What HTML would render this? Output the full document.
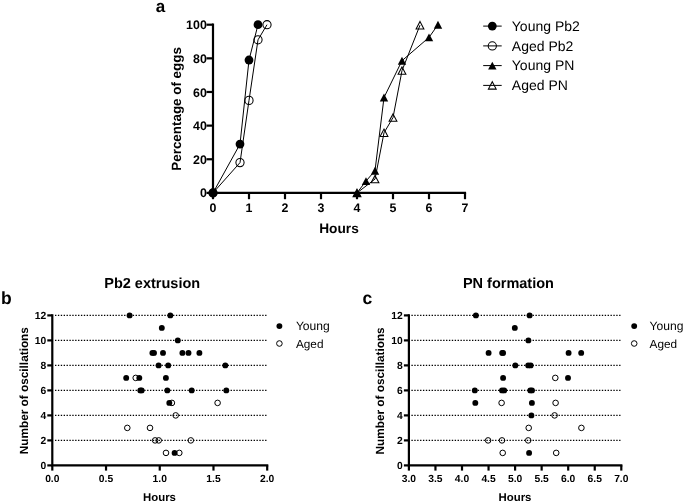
<!DOCTYPE html><html><head><meta charset="utf-8"><style>html,body{margin:0;padding:0;background:#fff;width:685px;height:503px;overflow:hidden}svg{display:block;will-change:transform}#w{width:685px;height:503px;background:#fff}text{font-family:"Liberation Sans", sans-serif;fill:#000;text-rendering:geometricPrecision}</style></head><body><div id="w">
<svg width="685" height="503" viewBox="0 0 685 503">
<rect width="685" height="503" fill="#fff"/>
<text x="155.8" y="11.6" font-size="17" font-weight="bold">a</text>
<path d="M213.00 23.60V192.90H466.10" fill="none" stroke="#000" stroke-width="2.2" stroke-linejoin="miter"/>
<line x1="206.50" y1="192.90" x2="213.00" y2="192.90" stroke="#000" stroke-width="2.2"/>
<text x="206.8" y="197.45" font-size="12.4" font-weight="bold" text-anchor="end">0</text>
<line x1="206.50" y1="159.26" x2="213.00" y2="159.26" stroke="#000" stroke-width="2.2"/>
<text x="206.8" y="163.81" font-size="12.4" font-weight="bold" text-anchor="end">20</text>
<line x1="206.50" y1="125.62" x2="213.00" y2="125.62" stroke="#000" stroke-width="2.2"/>
<text x="206.8" y="130.17" font-size="12.4" font-weight="bold" text-anchor="end">40</text>
<line x1="206.50" y1="91.98" x2="213.00" y2="91.98" stroke="#000" stroke-width="2.2"/>
<text x="206.8" y="96.53" font-size="12.4" font-weight="bold" text-anchor="end">60</text>
<line x1="206.50" y1="58.34" x2="213.00" y2="58.34" stroke="#000" stroke-width="2.2"/>
<text x="206.8" y="62.89" font-size="12.4" font-weight="bold" text-anchor="end">80</text>
<line x1="206.50" y1="24.70" x2="213.00" y2="24.70" stroke="#000" stroke-width="2.2"/>
<text x="206.8" y="29.25" font-size="12.4" font-weight="bold" text-anchor="end">100</text>
<line x1="213.00" y1="192.90" x2="213.00" y2="199.20" stroke="#000" stroke-width="2.2"/>
<text x="213.00" y="211.5" font-size="12.4" font-weight="bold" text-anchor="middle">0</text>
<line x1="249.00" y1="192.90" x2="249.00" y2="199.20" stroke="#000" stroke-width="2.2"/>
<text x="249.00" y="211.5" font-size="12.4" font-weight="bold" text-anchor="middle">1</text>
<line x1="285.00" y1="192.90" x2="285.00" y2="199.20" stroke="#000" stroke-width="2.2"/>
<text x="285.00" y="211.5" font-size="12.4" font-weight="bold" text-anchor="middle">2</text>
<line x1="321.00" y1="192.90" x2="321.00" y2="199.20" stroke="#000" stroke-width="2.2"/>
<text x="321.00" y="211.5" font-size="12.4" font-weight="bold" text-anchor="middle">3</text>
<line x1="357.00" y1="192.90" x2="357.00" y2="199.20" stroke="#000" stroke-width="2.2"/>
<text x="357.00" y="211.5" font-size="12.4" font-weight="bold" text-anchor="middle">4</text>
<line x1="393.00" y1="192.90" x2="393.00" y2="199.20" stroke="#000" stroke-width="2.2"/>
<text x="393.00" y="211.5" font-size="12.4" font-weight="bold" text-anchor="middle">5</text>
<line x1="429.00" y1="192.90" x2="429.00" y2="199.20" stroke="#000" stroke-width="2.2"/>
<text x="429.00" y="211.5" font-size="12.4" font-weight="bold" text-anchor="middle">6</text>
<line x1="465.00" y1="192.90" x2="465.00" y2="199.20" stroke="#000" stroke-width="2.2"/>
<text x="465.00" y="211.5" font-size="12.4" font-weight="bold" text-anchor="middle">7</text>
<text x="339" y="232.5" font-size="13.7" font-weight="bold" text-anchor="middle">Hours</text>
<text transform="translate(181.2,108.9) rotate(-90)" font-size="13.4" font-weight="bold" text-anchor="middle">Percentage of eggs</text>
<polyline points="357.00,192.90 375.00,179.10 384.00,132.80 393.00,117.60 402.00,70.60 420.00,25.20" fill="none" stroke="#000" stroke-width="1.0"/>
<polyline points="357.00,192.90 366.00,181.10 375.00,170.70 384.00,97.50 402.00,60.70 429.00,37.40 438.00,24.70" fill="none" stroke="#000" stroke-width="1.0"/>
<polyline points="213.00,192.90 240.00,162.62 249.00,100.39 258.00,39.84 267.00,24.70" fill="none" stroke="#000" stroke-width="1.0"/>
<polyline points="213.00,192.90 240.00,144.12 249.00,60.02 258.00,24.70" fill="none" stroke="#000" stroke-width="1.0"/>
<path d="M357.00 189.20L360.90 196.60L353.10 196.60Z" fill="none" stroke="#000" stroke-width="1.05"/>
<path d="M375.00 175.40L378.90 182.80L371.10 182.80Z" fill="none" stroke="#000" stroke-width="1.05"/>
<path d="M384.00 129.10L387.90 136.50L380.10 136.50Z" fill="none" stroke="#000" stroke-width="1.05"/>
<path d="M393.00 113.90L396.90 121.30L389.10 121.30Z" fill="none" stroke="#000" stroke-width="1.05"/>
<path d="M402.00 66.90L405.90 74.30L398.10 74.30Z" fill="none" stroke="#000" stroke-width="1.05"/>
<path d="M420.00 21.50L423.90 28.90L416.10 28.90Z" fill="none" stroke="#000" stroke-width="1.05"/>
<path d="M357.00 188.95L361.20 196.85L352.80 196.85Z" fill="#000"/>
<path d="M366.00 177.15L370.20 185.05L361.80 185.05Z" fill="#000"/>
<path d="M375.00 166.75L379.20 174.65L370.80 174.65Z" fill="#000"/>
<path d="M384.00 93.55L388.20 101.45L379.80 101.45Z" fill="#000"/>
<path d="M402.00 56.75L406.20 64.65L397.80 64.65Z" fill="#000"/>
<path d="M429.00 33.45L433.20 41.35L424.80 41.35Z" fill="#000"/>
<path d="M438.00 20.75L442.20 28.65L433.80 28.65Z" fill="#000"/>
<circle cx="213.00" cy="192.90" r="4.1" fill="none" stroke="#000" stroke-width="1.05"/>
<circle cx="240.00" cy="162.62" r="4.1" fill="none" stroke="#000" stroke-width="1.05"/>
<circle cx="249.00" cy="100.39" r="4.1" fill="none" stroke="#000" stroke-width="1.05"/>
<circle cx="258.00" cy="39.84" r="4.1" fill="none" stroke="#000" stroke-width="1.05"/>
<circle cx="267.00" cy="24.70" r="4.1" fill="none" stroke="#000" stroke-width="1.05"/>
<circle cx="213.00" cy="192.90" r="4.4" fill="#000"/>
<circle cx="240.00" cy="144.12" r="4.4" fill="#000"/>
<circle cx="249.00" cy="60.02" r="4.4" fill="#000"/>
<circle cx="258.00" cy="24.70" r="4.4" fill="#000"/>
<line x1="483.2" y1="26.10" x2="501.7" y2="26.10" stroke="#000" stroke-width="1"/>
<circle cx="492.3" cy="26.1" r="4.4" fill="#000"/>
<text x="511.8" y="30.70" font-size="14">Young Pb2</text>
<line x1="483.2" y1="45.90" x2="501.7" y2="45.90" stroke="#000" stroke-width="1"/>
<circle cx="492.3" cy="45.9" r="4.1" fill="none" stroke="#000" stroke-width="1.05"/>
<text x="511.8" y="50.50" font-size="14">Aged Pb2</text>
<line x1="483.2" y1="65.60" x2="501.7" y2="65.60" stroke="#000" stroke-width="1"/>
<path d="M492.30 61.65L496.50 69.55L488.10 69.55Z" fill="#000"/>
<text x="511.8" y="70.20" font-size="14">Young PN</text>
<line x1="483.2" y1="85.40" x2="501.7" y2="85.40" stroke="#000" stroke-width="1"/>
<path d="M492.30 81.70L496.20 89.10L488.40 89.10Z" fill="none" stroke="#000" stroke-width="1.05"/>
<text x="511.8" y="90.00" font-size="14">Aged PN</text>
<line x1="55.025" y1="440.40" x2="266.475" y2="440.40" stroke="#000" stroke-width="1.1" stroke-dasharray="1.350 1.528"/>
<line x1="55.025" y1="415.40" x2="266.475" y2="415.40" stroke="#000" stroke-width="1.1" stroke-dasharray="1.350 1.528"/>
<line x1="55.025" y1="390.40" x2="266.475" y2="390.40" stroke="#000" stroke-width="1.1" stroke-dasharray="1.350 1.528"/>
<line x1="55.025" y1="365.40" x2="266.475" y2="365.40" stroke="#000" stroke-width="1.1" stroke-dasharray="1.350 1.528"/>
<line x1="55.025" y1="340.40" x2="266.475" y2="340.40" stroke="#000" stroke-width="1.1" stroke-dasharray="1.350 1.528"/>
<line x1="55.025" y1="315.40" x2="266.475" y2="315.40" stroke="#000" stroke-width="1.1" stroke-dasharray="1.350 1.528"/>
<path d="M52.30 314.30V465.40H268.30" fill="none" stroke="#000" stroke-width="2.2"/>
<line x1="47.30" y1="465.40" x2="52.30" y2="465.40" stroke="#000" stroke-width="2.2"/>
<text x="46.20" y="469.40" font-size="10.3" font-weight="bold" text-anchor="end">0</text>
<line x1="47.30" y1="440.40" x2="52.30" y2="440.40" stroke="#000" stroke-width="2.2"/>
<text x="46.20" y="444.40" font-size="10.3" font-weight="bold" text-anchor="end">2</text>
<line x1="47.30" y1="415.40" x2="52.30" y2="415.40" stroke="#000" stroke-width="2.2"/>
<text x="46.20" y="419.40" font-size="10.3" font-weight="bold" text-anchor="end">4</text>
<line x1="47.30" y1="390.40" x2="52.30" y2="390.40" stroke="#000" stroke-width="2.2"/>
<text x="46.20" y="394.40" font-size="10.3" font-weight="bold" text-anchor="end">6</text>
<line x1="47.30" y1="365.40" x2="52.30" y2="365.40" stroke="#000" stroke-width="2.2"/>
<text x="46.20" y="369.40" font-size="10.3" font-weight="bold" text-anchor="end">8</text>
<line x1="47.30" y1="340.40" x2="52.30" y2="340.40" stroke="#000" stroke-width="2.2"/>
<text x="46.20" y="344.40" font-size="10.3" font-weight="bold" text-anchor="end">10</text>
<line x1="47.30" y1="315.40" x2="52.30" y2="315.40" stroke="#000" stroke-width="2.2"/>
<text x="46.20" y="319.40" font-size="10.3" font-weight="bold" text-anchor="end">12</text>
<line x1="52.30" y1="465.40" x2="52.30" y2="470.60" stroke="#000" stroke-width="2.2"/>
<text x="52.30" y="482" font-size="10.3" font-weight="bold" text-anchor="middle">0.0</text>
<line x1="106.03" y1="465.40" x2="106.03" y2="470.60" stroke="#000" stroke-width="2.2"/>
<text x="106.03" y="482" font-size="10.3" font-weight="bold" text-anchor="middle">0.5</text>
<line x1="159.75" y1="465.40" x2="159.75" y2="470.60" stroke="#000" stroke-width="2.2"/>
<text x="159.75" y="482" font-size="10.3" font-weight="bold" text-anchor="middle">1.0</text>
<line x1="213.48" y1="465.40" x2="213.48" y2="470.60" stroke="#000" stroke-width="2.2"/>
<text x="213.48" y="482" font-size="10.3" font-weight="bold" text-anchor="middle">1.5</text>
<line x1="267.20" y1="465.40" x2="267.20" y2="470.60" stroke="#000" stroke-width="2.2"/>
<text x="267.20" y="482" font-size="10.3" font-weight="bold" text-anchor="middle">2.0</text>
<text x="159.50" y="500.8" font-size="11.4" font-weight="bold" text-anchor="middle">Hours</text>
<text transform="translate(27.60,390.70) rotate(-90)" font-size="11.8" font-weight="bold" text-anchor="middle">Number of oscillations</text>
<text x="152.20" y="287.7" font-size="14.5" font-weight="bold" text-anchor="middle">Pb2 extrusion</text>
<text x="1.00" y="303.7" font-size="17.5" font-weight="bold">b</text>
<circle cx="129.60" cy="315.40" r="2.95" fill="#000"/>
<circle cx="170.30" cy="315.40" r="2.95" fill="#000"/>
<circle cx="161.80" cy="327.90" r="2.95" fill="#000"/>
<circle cx="177.80" cy="340.40" r="2.95" fill="#000"/>
<circle cx="152.40" cy="352.90" r="2.95" fill="#000"/>
<circle cx="154.00" cy="352.90" r="2.95" fill="#000"/>
<circle cx="163.00" cy="352.90" r="2.95" fill="#000"/>
<circle cx="182.40" cy="352.90" r="2.95" fill="#000"/>
<circle cx="188.50" cy="352.90" r="2.95" fill="#000"/>
<circle cx="199.40" cy="352.90" r="2.95" fill="#000"/>
<circle cx="158.60" cy="365.40" r="2.95" fill="#000"/>
<circle cx="168.20" cy="365.40" r="2.95" fill="#000"/>
<circle cx="225.30" cy="365.40" r="2.95" fill="#000"/>
<circle cx="135.70" cy="377.90" r="2.8" fill="none" stroke="#000" stroke-width="1"/>
<circle cx="126.20" cy="377.90" r="2.95" fill="#000"/>
<circle cx="139.30" cy="377.90" r="2.95" fill="#000"/>
<circle cx="165.90" cy="377.90" r="2.95" fill="#000"/>
<circle cx="140.30" cy="390.40" r="2.95" fill="#000"/>
<circle cx="141.70" cy="390.40" r="2.95" fill="#000"/>
<circle cx="167.30" cy="390.40" r="2.95" fill="#000"/>
<circle cx="191.70" cy="390.40" r="2.95" fill="#000"/>
<circle cx="226.30" cy="390.40" r="2.95" fill="#000"/>
<circle cx="171.90" cy="402.90" r="2.8" fill="none" stroke="#000" stroke-width="1"/>
<circle cx="217.60" cy="402.90" r="2.8" fill="none" stroke="#000" stroke-width="1"/>
<circle cx="169.30" cy="402.90" r="2.95" fill="#000"/>
<circle cx="175.70" cy="415.40" r="2.8" fill="none" stroke="#000" stroke-width="1"/>
<circle cx="127.30" cy="427.90" r="2.8" fill="none" stroke="#000" stroke-width="1"/>
<circle cx="150.00" cy="427.90" r="2.8" fill="none" stroke="#000" stroke-width="1"/>
<circle cx="155.10" cy="440.40" r="2.8" fill="none" stroke="#000" stroke-width="1"/>
<circle cx="158.70" cy="440.40" r="2.8" fill="none" stroke="#000" stroke-width="1"/>
<circle cx="190.80" cy="440.40" r="2.8" fill="none" stroke="#000" stroke-width="1"/>
<circle cx="166.00" cy="452.90" r="2.8" fill="none" stroke="#000" stroke-width="1"/>
<circle cx="179.30" cy="452.90" r="2.8" fill="none" stroke="#000" stroke-width="1"/>
<circle cx="174.60" cy="452.90" r="2.95" fill="#000"/>
<circle cx="279.40" cy="326.1" r="2.95" fill="#000"/>
<circle cx="279.40" cy="343.5" r="2.8" fill="none" stroke="#000" stroke-width="1"/>
<text x="295.90" y="330.2" font-size="12.1">Young</text>
<text x="295.90" y="347.5" font-size="11.8">Aged</text>
<line x1="411.425" y1="440.40" x2="620.475" y2="440.40" stroke="#000" stroke-width="1.1" stroke-dasharray="1.350 1.535"/>
<line x1="411.425" y1="415.40" x2="620.475" y2="415.40" stroke="#000" stroke-width="1.1" stroke-dasharray="1.350 1.535"/>
<line x1="411.425" y1="390.40" x2="620.475" y2="390.40" stroke="#000" stroke-width="1.1" stroke-dasharray="1.350 1.535"/>
<line x1="411.425" y1="365.40" x2="620.475" y2="365.40" stroke="#000" stroke-width="1.1" stroke-dasharray="1.350 1.535"/>
<line x1="411.425" y1="340.40" x2="620.475" y2="340.40" stroke="#000" stroke-width="1.1" stroke-dasharray="1.350 1.535"/>
<line x1="411.425" y1="315.40" x2="620.475" y2="315.40" stroke="#000" stroke-width="1.1" stroke-dasharray="1.350 1.535"/>
<path d="M408.90 314.30V465.40H622.40" fill="none" stroke="#000" stroke-width="2.2"/>
<line x1="403.90" y1="465.40" x2="408.90" y2="465.40" stroke="#000" stroke-width="2.2"/>
<text x="402.80" y="469.40" font-size="10.3" font-weight="bold" text-anchor="end">0</text>
<line x1="403.90" y1="440.40" x2="408.90" y2="440.40" stroke="#000" stroke-width="2.2"/>
<text x="402.80" y="444.40" font-size="10.3" font-weight="bold" text-anchor="end">2</text>
<line x1="403.90" y1="415.40" x2="408.90" y2="415.40" stroke="#000" stroke-width="2.2"/>
<text x="402.80" y="419.40" font-size="10.3" font-weight="bold" text-anchor="end">4</text>
<line x1="403.90" y1="390.40" x2="408.90" y2="390.40" stroke="#000" stroke-width="2.2"/>
<text x="402.80" y="394.40" font-size="10.3" font-weight="bold" text-anchor="end">6</text>
<line x1="403.90" y1="365.40" x2="408.90" y2="365.40" stroke="#000" stroke-width="2.2"/>
<text x="402.80" y="369.40" font-size="10.3" font-weight="bold" text-anchor="end">8</text>
<line x1="403.90" y1="340.40" x2="408.90" y2="340.40" stroke="#000" stroke-width="2.2"/>
<text x="402.80" y="344.40" font-size="10.3" font-weight="bold" text-anchor="end">10</text>
<line x1="403.90" y1="315.40" x2="408.90" y2="315.40" stroke="#000" stroke-width="2.2"/>
<text x="402.80" y="319.40" font-size="10.3" font-weight="bold" text-anchor="end">12</text>
<line x1="408.90" y1="465.40" x2="408.90" y2="470.60" stroke="#000" stroke-width="2.2"/>
<text x="408.90" y="482" font-size="10.3" font-weight="bold" text-anchor="middle">3.0</text>
<line x1="435.45" y1="465.40" x2="435.45" y2="470.60" stroke="#000" stroke-width="2.2"/>
<text x="435.45" y="482" font-size="10.3" font-weight="bold" text-anchor="middle">3.5</text>
<line x1="462.00" y1="465.40" x2="462.00" y2="470.60" stroke="#000" stroke-width="2.2"/>
<text x="462.00" y="482" font-size="10.3" font-weight="bold" text-anchor="middle">4.0</text>
<line x1="488.55" y1="465.40" x2="488.55" y2="470.60" stroke="#000" stroke-width="2.2"/>
<text x="488.55" y="482" font-size="10.3" font-weight="bold" text-anchor="middle">4.5</text>
<line x1="515.10" y1="465.40" x2="515.10" y2="470.60" stroke="#000" stroke-width="2.2"/>
<text x="515.10" y="482" font-size="10.3" font-weight="bold" text-anchor="middle">5.0</text>
<line x1="541.65" y1="465.40" x2="541.65" y2="470.60" stroke="#000" stroke-width="2.2"/>
<text x="541.65" y="482" font-size="10.3" font-weight="bold" text-anchor="middle">5.5</text>
<line x1="568.20" y1="465.40" x2="568.20" y2="470.60" stroke="#000" stroke-width="2.2"/>
<text x="568.20" y="482" font-size="10.3" font-weight="bold" text-anchor="middle">6.0</text>
<line x1="594.75" y1="465.40" x2="594.75" y2="470.60" stroke="#000" stroke-width="2.2"/>
<text x="594.75" y="482" font-size="10.3" font-weight="bold" text-anchor="middle">6.5</text>
<line x1="621.30" y1="465.40" x2="621.30" y2="470.60" stroke="#000" stroke-width="2.2"/>
<text x="621.30" y="482" font-size="10.3" font-weight="bold" text-anchor="middle">7.0</text>
<text x="515.00" y="500.8" font-size="11.4" font-weight="bold" text-anchor="middle">Hours</text>
<text transform="translate(384.10,390.90) rotate(-90)" font-size="11.8" font-weight="bold" text-anchor="middle">Number of oscillations</text>
<text x="508.40" y="287.7" font-size="14.5" font-weight="bold" text-anchor="middle">PN formation</text>
<text x="362.40" y="303.7" font-size="17.5" font-weight="bold">c</text>
<circle cx="475.90" cy="315.40" r="2.95" fill="#000"/>
<circle cx="529.60" cy="315.40" r="2.95" fill="#000"/>
<circle cx="514.80" cy="327.90" r="2.95" fill="#000"/>
<circle cx="528.40" cy="340.40" r="2.95" fill="#000"/>
<circle cx="488.60" cy="352.90" r="2.95" fill="#000"/>
<circle cx="502.20" cy="352.90" r="2.95" fill="#000"/>
<circle cx="503.10" cy="352.90" r="2.95" fill="#000"/>
<circle cx="568.60" cy="352.90" r="2.95" fill="#000"/>
<circle cx="581.20" cy="352.90" r="2.95" fill="#000"/>
<circle cx="515.30" cy="365.40" r="2.95" fill="#000"/>
<circle cx="528.20" cy="365.40" r="2.95" fill="#000"/>
<circle cx="530.70" cy="365.40" r="2.95" fill="#000"/>
<circle cx="555.30" cy="377.90" r="2.8" fill="none" stroke="#000" stroke-width="1"/>
<circle cx="503.10" cy="377.90" r="2.95" fill="#000"/>
<circle cx="568.00" cy="377.90" r="2.95" fill="#000"/>
<circle cx="474.80" cy="390.40" r="2.95" fill="#000"/>
<circle cx="502.00" cy="390.40" r="2.95" fill="#000"/>
<circle cx="504.20" cy="390.40" r="2.95" fill="#000"/>
<circle cx="530.30" cy="390.40" r="2.95" fill="#000"/>
<circle cx="532.00" cy="390.40" r="2.95" fill="#000"/>
<circle cx="501.60" cy="402.90" r="2.8" fill="none" stroke="#000" stroke-width="1"/>
<circle cx="555.60" cy="402.90" r="2.8" fill="none" stroke="#000" stroke-width="1"/>
<circle cx="475.30" cy="402.90" r="2.95" fill="#000"/>
<circle cx="531.90" cy="402.90" r="2.95" fill="#000"/>
<circle cx="554.60" cy="415.40" r="2.8" fill="none" stroke="#000" stroke-width="1"/>
<circle cx="531.40" cy="415.40" r="2.95" fill="#000"/>
<circle cx="528.70" cy="427.90" r="2.8" fill="none" stroke="#000" stroke-width="1"/>
<circle cx="581.40" cy="427.90" r="2.8" fill="none" stroke="#000" stroke-width="1"/>
<circle cx="488.10" cy="440.40" r="2.8" fill="none" stroke="#000" stroke-width="1"/>
<circle cx="502.00" cy="440.40" r="2.8" fill="none" stroke="#000" stroke-width="1"/>
<circle cx="528.20" cy="440.40" r="2.8" fill="none" stroke="#000" stroke-width="1"/>
<circle cx="502.70" cy="452.90" r="2.8" fill="none" stroke="#000" stroke-width="1"/>
<circle cx="556.20" cy="452.90" r="2.8" fill="none" stroke="#000" stroke-width="1"/>
<circle cx="529.10" cy="452.90" r="2.95" fill="#000"/>
<circle cx="634.20" cy="326.1" r="2.95" fill="#000"/>
<circle cx="634.20" cy="343.5" r="2.8" fill="none" stroke="#000" stroke-width="1"/>
<text x="649.60" y="330.2" font-size="12.1">Young</text>
<text x="649.60" y="347.5" font-size="11.8">Aged</text>
</svg></div></body></html>
